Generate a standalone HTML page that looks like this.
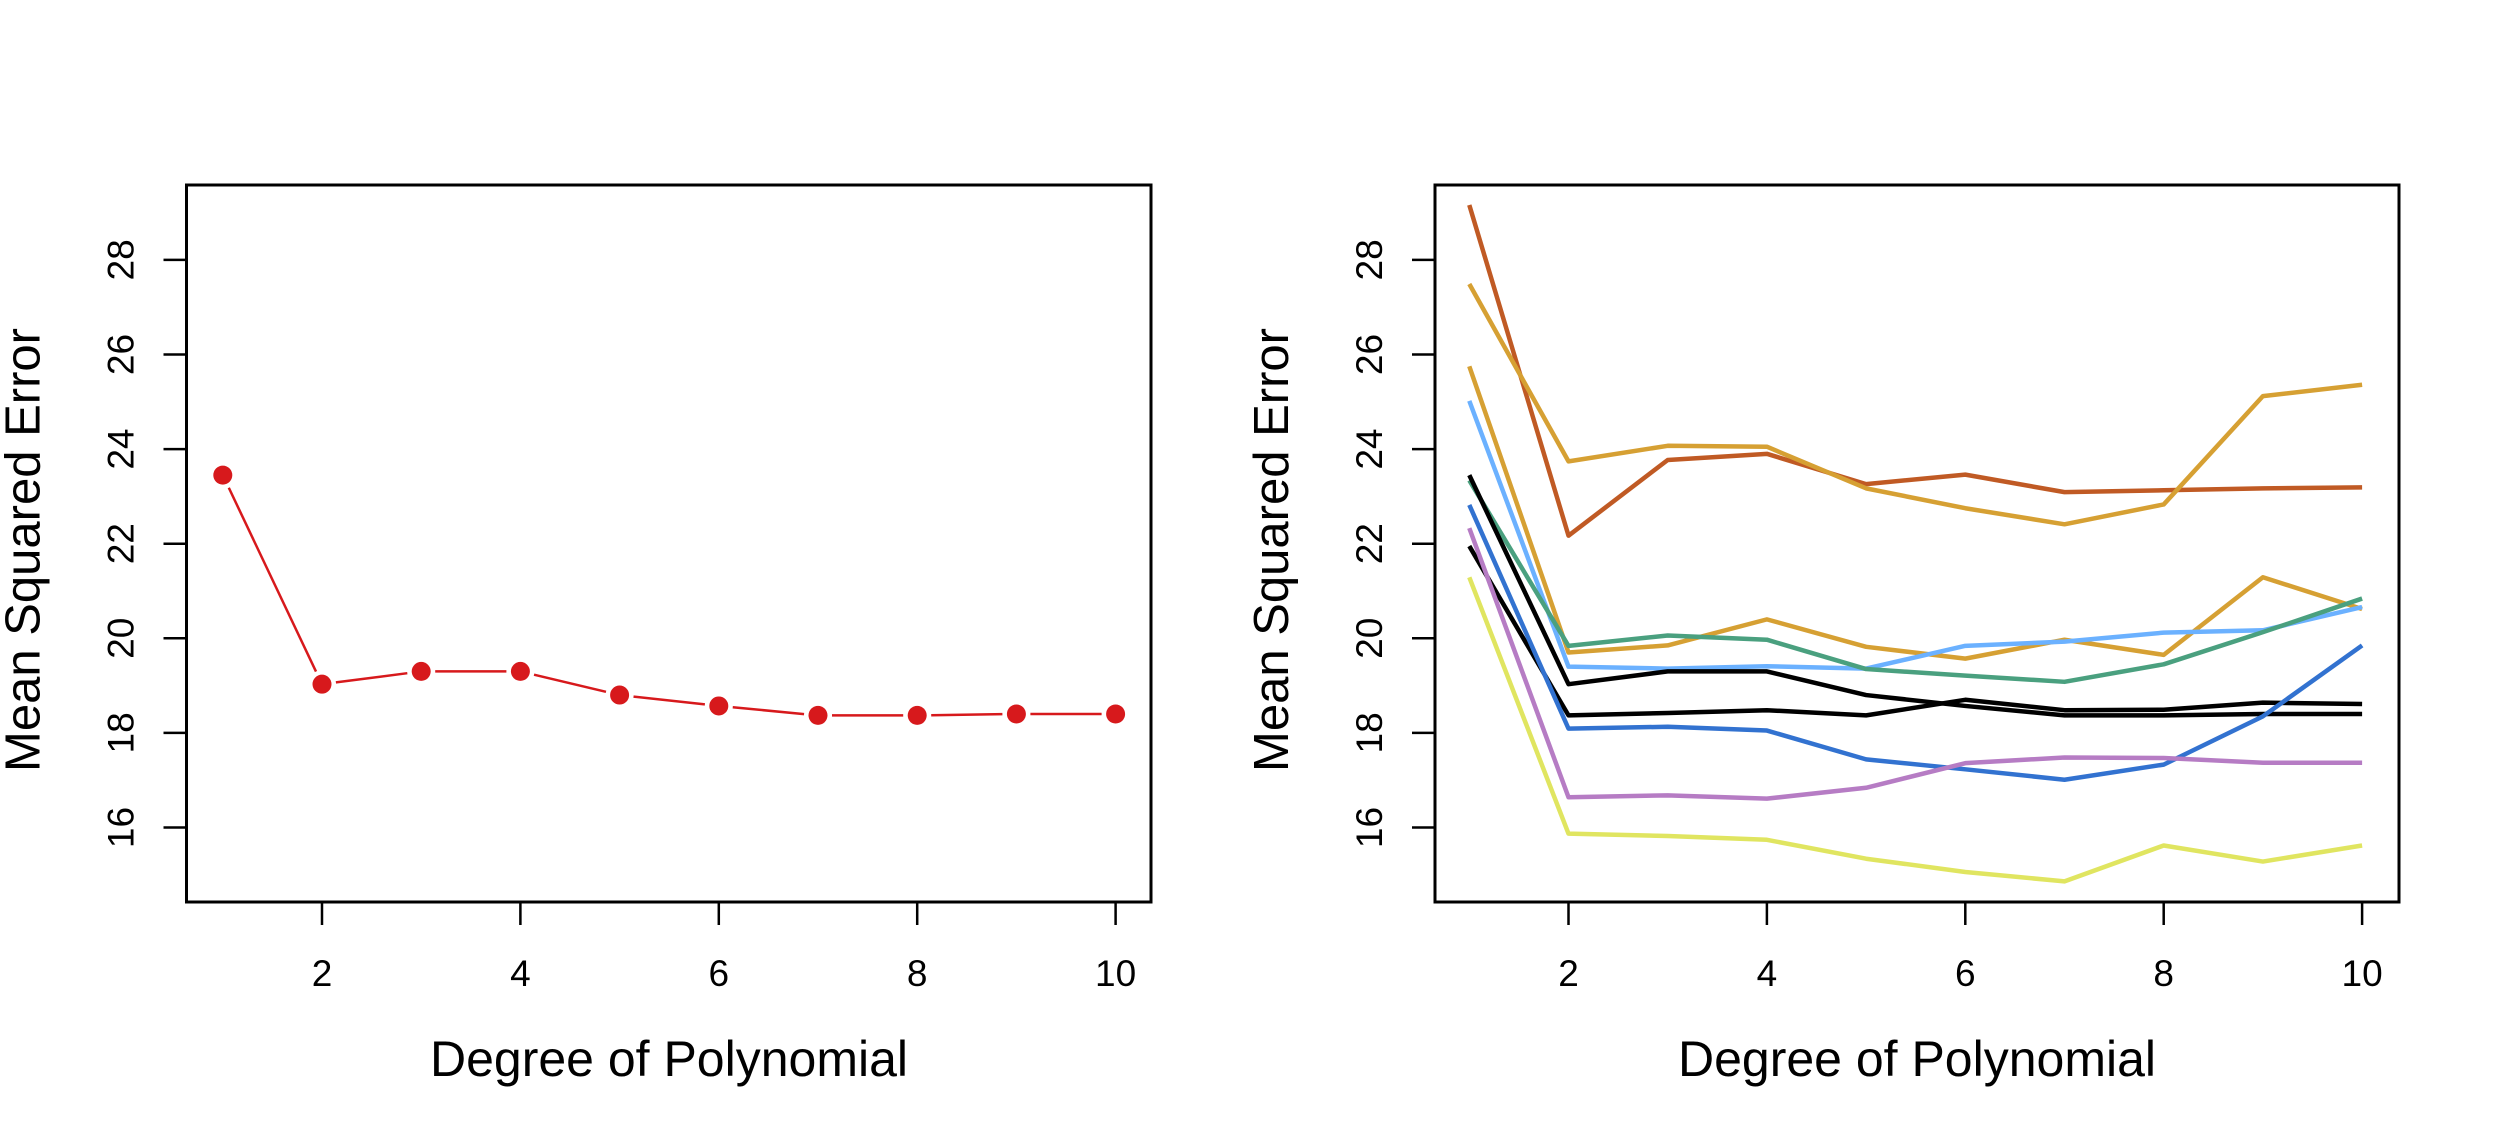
<!DOCTYPE html>
<html><head><meta charset="utf-8"><style>
html,body{margin:0;padding:0;background:#fff;}
svg{display:block;font-family:"Liberation Sans",Arial,sans-serif;}
</style></head><body>
<svg id="chart" width="2500" height="1139" viewBox="0 0 2500 1139" xmlns="http://www.w3.org/2000/svg"></svg>
<script>
const degrees = [1,2,3,4,5,6,7,8,9,10];
const yTicks = [16,18,20,22,24,26,28];
const xTicks = [2,4,6,8,10];
const leftMSE = [23.45,19.03,19.3,19.3,18.8,18.57,18.37,18.37,18.4,18.4];
const sSienna = [29.16,22.17,23.77,23.9,23.26,23.46,23.09,23.13,23.17,23.19];
const sGoldTop = [27.49,23.74,24.07,24.05,23.17,22.75,22.41,22.83,25.12,25.36];
const sGoldLow = [25.75,19.7,19.85,20.4,19.82,19.57,19.97,19.65,21.29,20.62];
const sLightBlue = [25.02,19.4,19.36,19.41,19.36,19.84,19.93,20.12,20.17,20.66];
const sTeal = [23.34,19.84,20.06,19.97,19.35,19.21,19.08,19.45,20.13,20.84];
const sBlack1 = [23.45,19.03,19.3,19.3,18.8,18.57,18.37,18.37,18.4,18.4];
const sBlack2 = [21.95,18.37,18.42,18.48,18.37,18.7,18.48,18.49,18.64,18.61];
const sBlue = [22.82,18.09,18.13,18.05,17.44,17.23,17.01,17.33,18.35,19.85];
const sPurple = [22.33,16.64,16.68,16.61,16.84,17.36,17.48,17.47,17.37,17.37];
const sYellow = [21.29,15.87,15.82,15.74,15.34,15.06,14.86,15.62,15.28,15.62];

const NS="http://www.w3.org/2000/svg";
const svg=document.getElementById('chart');
function mk(tag,attrs,parent){const e=document.createElementNS(NS,tag);for(const k in attrs)e.setAttribute(k,attrs[k]);(parent||svg).appendChild(e);return e;}
function yScale(v){return 827.5-(v-16)*47.3;}
function makeX(x1){return function(d){return x1+(d-1)*99.2;};}

function panel(name,boxL,boxR,x1,titleX){
  const g=mk('g',{});
  
  
  const xs=makeX(x1);
  const box=mk('rect',{x:boxL,y:185,width:boxR-boxL,height:717,fill:'none',stroke:'#000','stroke-width':3},g);
  
  
  yTicks.forEach(t=>{
    const y=yScale(t);
    const tk=mk('line',{x1:boxL,x2:boxL-23,y1:y,y2:y,stroke:'#000','stroke-width':2.5},g);
    
    
    const tx=mk('text',{x:0,y:0,transform:`translate(${boxL-53},${y}) rotate(-90)`,'text-anchor':'middle','font-size':37,fill:'#000'},g);
    tx.textContent=t;
    
    
  });
  xTicks.forEach(t=>{
    const x=xs(t);
    const tk=mk('line',{x1:x,x2:x,y1:902,y2:925,stroke:'#000','stroke-width':2.5},g);
    
    
    const tx=mk('text',{x:x,y:986,'text-anchor':'middle','font-size':37,fill:'#000'},g);
    tx.textContent=t;
    
    
  });
  const xt=mk('text',{x:titleX,y:1076,'text-anchor':'middle','font-size':50,fill:'#000'},g);
  xt.textContent='Degree of Polynomial';
  
  
  const yt=mk('text',{x:0,y:0,transform:`translate(${boxL-147},550) rotate(-90)`,'text-anchor':'middle','font-size':49,fill:'#000'},g);
  yt.textContent='Mean Squared Error';
  
  
  return {g,xs};
}

// Left panel
const L=panel('left-panel',186.5,1151,222.8,669);
const gap=14;
for(let i=0;i<degrees.length-1;i++){
  const ax=L.xs(degrees[i]),ay=yScale(leftMSE[i]),bx=L.xs(degrees[i+1]),by=yScale(leftMSE[i+1]);
  const dx=bx-ax,dy=by-ay,len=Math.hypot(dx,dy);
  if(len>2*gap){
    const ux=dx/len,uy=dy/len;
    const seg=mk('line',{x1:ax+ux*gap,y1:ay+uy*gap,x2:bx-ux*gap,y2:by-uy*gap,stroke:'#d7191c','stroke-width':2.5},L.g);
    
    
  }
}
degrees.forEach((d,i)=>{
  const c=mk('circle',{cx:L.xs(d),cy:yScale(leftMSE[i]),r:9.5,fill:'#d7191c'},L.g);
  
  
});

// Right panel
const R=panel('right-panel',1435,2399,1469.3,1917);
const seriesList=[
  ['series-sienna',sSienna,'#c05a24'],
  ['series-gold-top',sGoldTop,'#d6a033'],
  ['series-gold-low',sGoldLow,'#d6a033'],
  ['series-light-blue',sLightBlue,'#6bb1ff'],
  ['series-teal',sTeal,'#4aa07f'],
  ['series-black-1',sBlack1,'#000000'],
  ['series-black-2',sBlack2,'#000000'],
  ['series-blue',sBlue,'#3272d0'],
  ['series-purple',sPurple,'#b67cc4'],
  ['series-yellow',sYellow,'#e0e560']
];
seriesList.forEach(([nm,vals,col])=>{
  const pts=degrees.map((d,i)=>R.xs(d)+','+yScale(vals[i])).join(' ');
  const p=mk('polyline',{points:pts,fill:'none',stroke:col,'stroke-width':4.5,'stroke-linejoin':'round'},R.g);
  
  
});
</script>
</body></html>
